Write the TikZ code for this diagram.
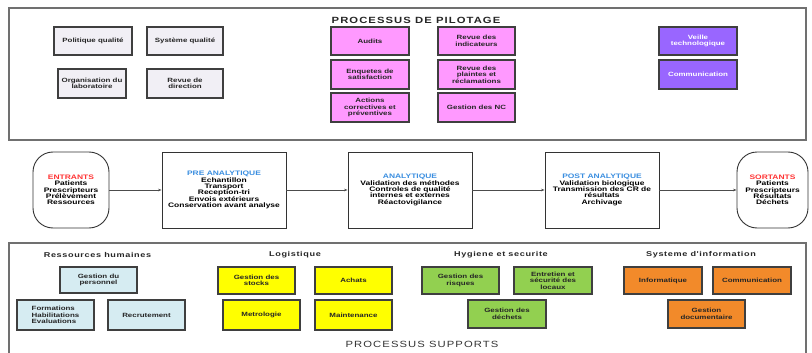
\documentclass[tikz,border=0pt]{standalone}
\usepackage{fontspec}
\setmainfont{Liberation Sans}
\newfontfamily\bxf{Liberation Sans}[FakeStretch=1.3]
\newfontfamily\ttlf{Liberation Sans}[FakeStretch=1.25,LetterSpace=12]
\newfontfamily\hdf{Liberation Sans}[FakeStretch=1.3,LetterSpace=9]
\usetikzlibrary{arrows.meta}
\definecolor{gbox}{HTML}{F1EFF5}
\definecolor{pbox}{HTML}{FF99FF}
\definecolor{vbox}{HTML}{9966FF}
\definecolor{bbox}{HTML}{D6ECF2}
\definecolor{ybox}{HTML}{FFFF00}
\definecolor{grbox}{HTML}{92D050}
\definecolor{obox}{HTML}{F28A2A}
\definecolor{redt}{HTML}{FF3333}
\definecolor{bluet}{HTML}{3A8EE0}
\definecolor{edge}{HTML}{3F3F3F}
\definecolor{frame}{HTML}{707070}
\tikzset{
  boxbase/.style={draw=edge, line width=1.2pt, align=center, inner sep=1pt,
    font=\bxf\bfseries\fontsize{6.1}{6.4}\selectfont, text=black!85},
  graybox/.style={boxbase, fill=gbox},
  pinkbox/.style={boxbase, fill=pbox},
  violetbox/.style={boxbase, fill=vbox, text=white},
  bluebox/.style={boxbase, fill=bbox},
  yellowbox/.style={boxbase, fill=ybox},
  greenbox/.style={boxbase, fill=grbox},
  orangebox/.style={boxbase, fill=obox},
  procbox/.style={draw=black!80, line width=0.9pt, fill=white, align=center,
    font=\bxf\bfseries\fontsize{6.5}{6.3}\selectfont, minimum width=124pt, minimum height=76pt},
  endbox/.style={draw=black!80, line width=0.9pt, fill=white, align=center, rounded corners=20pt,
    font=\bxf\bfseries\fontsize{6.5}{6.3}\selectfont, minimum width=76pt, minimum height=76pt},
  heading/.style={font=\hdf\bfseries\fontsize{7}{7.5}\selectfont, text=black!85},
  flow/.style={draw=black!70, line width=0.6pt, -{Stealth[length=3.5pt,width=2.6pt]}}
}
\begin{document}
\begin{tikzpicture}[x=1pt,y=-1pt]
\useasboundingbox (0,0) rectangle (812,353);
% frames
\draw[frame, line width=1.2pt] (9,8) rectangle (806,140);
\draw[frame, line width=1.6pt] (9,356) -- (9,243) -- (806,243) -- (806,356);
\node[font=\ttlf\bfseries\fontsize{9}{10}\selectfont, text=black!85] (ttl) at (416,20) {PROCESSUS DE PILOTAGE};
% top gray boxes
\node[graybox, minimum width=78pt, minimum height=28pt] (pq) at (93,41) {Politique qualité};
\node[graybox, minimum width=76pt, minimum height=28pt] (sq) at (185,41) {Système qualité};
\node[graybox, minimum width=68pt, minimum height=29pt] (ol) at (92,83.5) {Organisation du\\laboratoire};
\node[graybox, minimum width=76pt, minimum height=29pt] (rd) at (185,83.5) {Revue de\\direction};
% pink
\node[pinkbox, minimum width=78pt, minimum height=28pt] (aud) at (370,41) {Audits};
\node[pinkbox, minimum width=78pt, minimum height=29pt] (enq) at (370,74.5) {Enquetes de\\satisfaction};
\node[pinkbox, minimum width=78pt, minimum height=29pt] (acp) at (370,107.5) {Actions\\correctives et\\préventives};
\node[pinkbox, minimum width=77pt, minimum height=28pt] (rin) at (476.5,41) {Revue des\\indicateurs};
\node[pinkbox, minimum width=77pt, minimum height=29pt] (rpl) at (476.5,74.5) {Revue des\\plaintes et\\réclamations};
\node[pinkbox, minimum width=77pt, minimum height=29pt] (gnc) at (476.5,107.5) {Gestion des NC};
% violet
\node[violetbox, minimum width=78pt, minimum height=28pt] (vt) at (698,41) {Veille\\technologique};
\node[violetbox, minimum width=78pt, minimum height=29pt] (cm1) at (698,74.5) {Communication};
% middle
\node[endbox] (ent) at (71,190) {{\color{redt}ENTRANTS}\\Patients\\Prescripteurs\\Prélèvement\\Ressources};
\node[procbox] (pre) at (224,190) {{\color{bluet}PRE ANALYTIQUE}\\Echantillon\\Transport\\Reception-tri\\Envois extérieurs\\Conservation avant analyse};
\node[procbox] (ana) at (410,190) {{\color{bluet}ANALYTIQUE}\\Validation des méthodes\\Controles de qualité\\internes et externes\\Réactovigilance};
\node[procbox, minimum width=114pt] (post) at (602,190) {{\color{bluet}POST ANALYTIQUE}\\Validation biologique\\Transmission des CR de\\résultats\\Archivage};
\node[endbox, minimum width=71pt] (sort) at (772.5,190) {{\color{redt}SORTANTS}\\Patients\\Prescripteurs\\Résultats\\Déchets};
\draw[flow] (ent.east) -- (pre.west);
\draw[flow] (pre.east) -- (ana.west);
\draw[flow] (ana.east) -- (post.west);
\draw[flow] (post.east) -- (sort.west);
% bottom headings
\node[heading] (h1) at (97.5,255) {Ressources humaines};
\node[heading] (h2) at (295,255) {Logistique};
\node[heading] (h3) at (501,255) {Hygiene et securite};
\node[heading] (h4) at (701,255) {Systeme d'information};
% blue
\node[bluebox, minimum width=77pt, minimum height=26pt] (gp) at (98.5,280) {Gestion du\\personnel};
\node[bluebox, minimum width=77pt, minimum height=30pt, align=left] (fhe) at (55.5,315) {Formations\\Habilitations\\Evaluations};
\node[bluebox, minimum width=77pt, minimum height=30pt] (rec) at (146.5,315) {Recrutement};
% yellow
\node[yellowbox, minimum width=77pt, minimum height=27pt] (gs) at (256.5,280.5) {Gestion des\\stocks};
\node[yellowbox, minimum width=77pt, minimum height=27pt] (ach) at (353.5,280.5) {Achats};
\node[yellowbox, minimum width=77pt, minimum height=30pt] (met) at (261.5,315) {Metrologie};
\node[yellowbox, minimum width=77pt, minimum height=30pt] (mai) at (353.5,315) {Maintenance};
% green
\node[greenbox, minimum width=77pt, minimum height=27pt] (gr) at (460.5,280.5) {Gestion des\\risques};
\node[greenbox, minimum width=78pt, minimum height=27pt] (esl) at (553,280.5) {Entretien et\\sécurité des\\locaux};
\node[greenbox, minimum width=78pt, minimum height=28pt] (gd) at (507,314) {Gestion des\\déchets};
% orange
\node[orangebox, minimum width=78pt, minimum height=27pt] (inf) at (663,280.5) {Informatique};
\node[orangebox, minimum width=78pt, minimum height=27pt] (cm2) at (752,280.5) {Communication};
\node[orangebox, minimum width=77pt, minimum height=28pt] (gdo) at (706.5,314) {Gestion\\documentaire};
\node[font=\ttlf\fontsize{9}{10}\selectfont, text=black!80] (ttl2) at (422,344) {PROCESSUS SUPPORTS};
\end{tikzpicture}
\end{document}
